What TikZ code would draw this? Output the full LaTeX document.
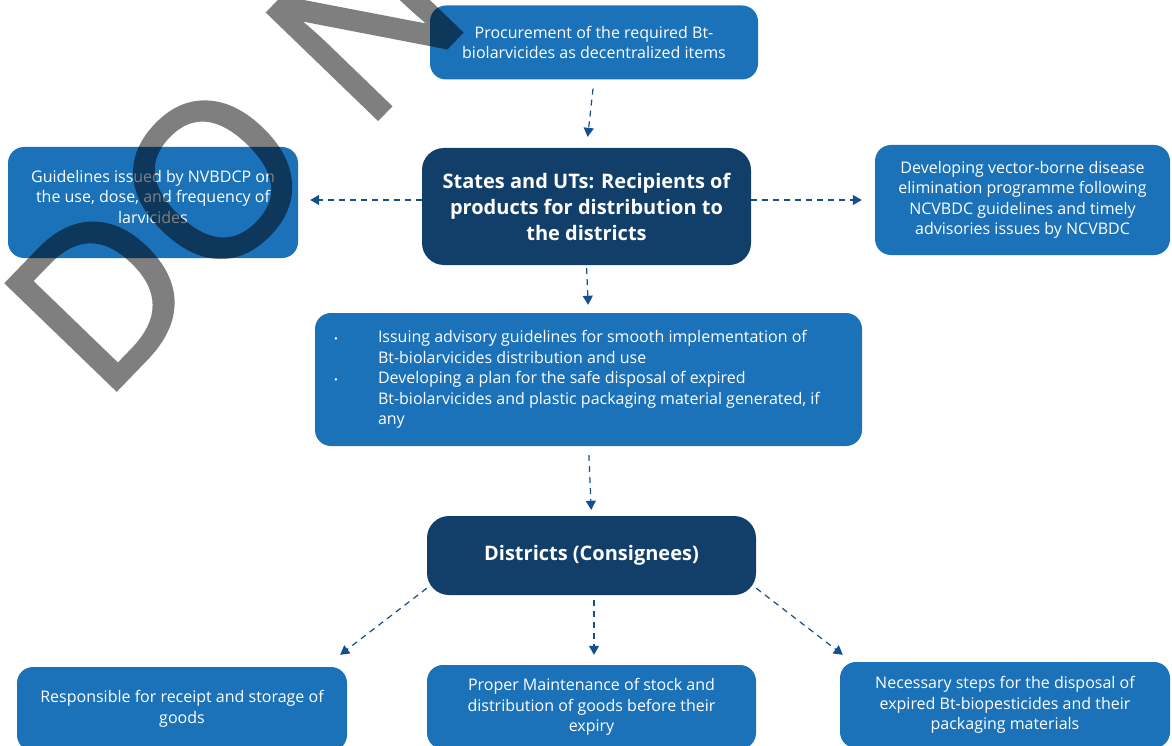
\documentclass[tikz,border=0pt]{standalone}
\usepackage{fontspec}
\setmainfont{Open Sans}
\newfontfamily\markfont[FakeBold=2]{Open Sans}
\usepackage{xcolor}
\usetikzlibrary{positioning, arrows.meta, calc}
\definecolor{boxblue}{RGB}{27,114,185}
\definecolor{boxnavy}{RGB}{18,62,106}
\definecolor{arrowblue}{RGB}{17,80,140}

\begin{document}
\begin{tikzpicture}[x=1pt, y=-1pt,
    lightbox/.style={fill=boxblue, rounded corners=16pt, text=white, align=center,
      font=\fontsize{16}{20.5}\selectfont, inner sep=0pt},
    darkbox/.style={fill=boxnavy, rounded corners=22pt, text=white, align=center,
      font=\bfseries\fontsize{20}{26}\selectfont, inner sep=0pt},
    flow/.style={arrowblue, line width=1.2pt, dash pattern=on 6pt off 5pt,
      -{Triangle[length=9pt, width=10pt]}}]

      \useasboundingbox (0,0) rectangle (1172,746);

      % Top row
      \node[lightbox, minimum width=328pt, minimum height=74pt] (procure) at (594,42.5)
        {Procurement of the required Bt-\\biolarvicides as decentralized items};

      % Middle row
      \node[darkbox, minimum width=329pt, minimum height=117pt] (states) at (586.5,206.5)
        {States and UTs: Recipients of\\products for distribution to\\the districts};
      \node[lightbox, minimum width=290pt, minimum height=111pt] (guide) at (153,202.5)
        {Guidelines issued by NVBDCP on\\the use, dose, and frequency of\\larvicides\rule[-12pt]{0pt}{12pt}};
      \node[lightbox, minimum width=295pt, minimum height=110pt] (develop) at (1022.5,200)
        {Developing vector-borne disease\\elimination programme following\\NCVBDC guidelines and timely\\advisories issues by NCVBDC};

      % Bullet box
      \node[lightbox, align=left, minimum width=547pt, minimum height=133pt] (plan) at (588.5,379.5)
        {\begin{tabular}{@{}p{44pt}@{}p{465pt}@{}}
          {\fontsize{10}{10}\selectfont\textbullet} & Issuing advisory guidelines for smooth implementation of\newline
            Bt-biolarvicides distribution and use\\
          {\fontsize{10}{10}\selectfont\textbullet} & Developing a plan for the safe disposal of expired\newline
            Bt-biolarvicides and plastic packaging material generated, if\newline any
        \end{tabular}};

      % Districts
      \node[darkbox, minimum width=329pt, minimum height=79pt] (districts) at (591.5,555.5)
        {Districts (Consignees)};

      % Bottom row
      \node[lightbox, minimum width=330pt, minimum height=84pt] (receipt) at (182,709)
        {Responsible for receipt and storage of\\goods};
      \node[lightbox, minimum width=329pt, minimum height=84pt] (maint) at (591.5,707)
        {Proper Maintenance of stock and\\distribution of goods before their\\expiry};
      \node[lightbox, minimum width=330pt, minimum height=86pt] (disposal) at (1005,705)
        {Necessary steps for the disposal of\\expired Bt-biopesticides and their\\packaging materials};

      % Connectors
      \draw[flow, shorten <=9pt, shorten >=11pt] (procure.south) -- (states.north);
      \draw[flow, shorten >=12pt] ([yshift=6.5pt]states.west) -- ([yshift=2.5pt]guide.east);
      \draw[flow, shorten >=13pt] ([yshift=6.5pt]states.east) -- (develop.west);
      \draw[flow, shorten <=3pt, shorten >=8pt] (states.south) -- (plan.north);
      \draw[flow, shorten <=9pt, shorten >=6pt] (plan.south) -- (districts.north);
      \draw[flow, shorten <=5pt, shorten >=10pt] ([xshift=2.5pt]districts.south) -- ([xshift=2.5pt]maint.north);
      \draw[flow] ([yshift=7pt]districts.south west) -- ([shift={(-7pt,12pt)}]receipt.north east);
      \draw[flow] ([yshift=7pt]districts.south east) -- ([shift={(3pt,7pt)}]disposal.north west);

      % Watermark
      \begin{scope}[transparency group, opacity=0.5]
        \clip (0,0) rectangle (1172,746);
        \node[rotate=46, anchor=base west, inner sep=0pt, text=black,
          font=\markfont\fontsize{213}{213}\selectfont] (mark) at (102,404) {DO N};
      \end{scope}

    \end{tikzpicture}
\end{document}
